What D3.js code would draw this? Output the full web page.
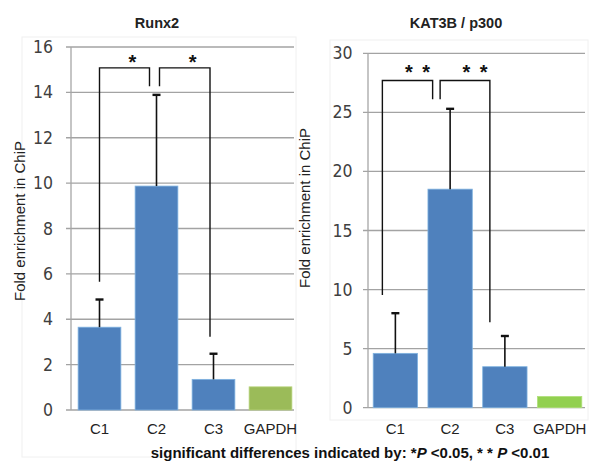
<!DOCTYPE html>
<html>
<head>
<meta charset="utf-8">
<script src="https://cdn.jsdelivr.net/npm/d3@7"></script>
<style>
  body { margin: 0; background: #fff; }
  svg { display: block; }
</style>
</head>
<body>
<div id="chart"></div>
<script>
// data
const categories = ["C1", "C2", "C3", "GAPDH"];
const runx2Values = [3.65, 9.87, 1.35, 1.02];
const runx2Errors = [1.22, 4.02, 1.13, 0];
const runx2Ticks = [0, 2, 4, 6, 8, 10, 12, 14, 16];
const p300Values = [4.6, 18.5, 3.47, 0.95];
const p300Errors = [3.4, 6.8, 2.6, 0];
const p300Ticks = [0, 5, 10, 15, 20, 25, 30];
// brackets: [from index, to index, top, leftLegBottom, rightLegBottom, label]
const runx2Brackets = [[0, 1, 15.08, 5.65, 14.27, "*"], [1, 2, 15.08, 14.27, 3.23, "*"]];
const p300Brackets = [[0, 1, 27.7, 9.55, 26.1, "* *"], [1, 2, 27.7, 26.1, 7.23, "* *"]];

const W = 591, H = 466;
const svg = d3.select("#chart").append("svg").attr("width", W).attr("height", H);

const blue = "#4f81bd";
const tickFont = "'Liberation Sans Narrow', 'DejaVu Sans Condensed', 'Arial Narrow', sans-serif";
const textFont = "'Liberation Sans', Arial, sans-serif";

function panel(o) {
  const g = svg.append("g");
  const x = d3.scaleBand().domain(categories).range([o.x0, o.x1]).paddingInner(o.pad).paddingOuter(o.pad / 2);
  const y = d3.scaleLinear().domain([0, o.max]).range([o.y0, o.y1]);
  const cx = i => x(categories[i]) + x.bandwidth() / 2;

  // light chart-area frame
  g.append("rect")
    .attr("x", o.frame[0]).attr("y", o.frame[1])
    .attr("width", o.frame[2]).attr("height", o.frame[3])
    .attr("fill", "none").attr("stroke", "#f0f0f0");

  // gridlines + ticks
  g.selectAll(".grid").data(o.ticks).join("line")
    .attr("x1", o.x0 - 5).attr("x2", o.gx1)
    .attr("y1", d => y(d)).attr("y2", d => y(d))
    .attr("stroke", "#a3a3a3").attr("stroke-width", 1.3);

  g.append("line")
    .attr("x1", o.x0).attr("x2", o.x0)
    .attr("y1", y(o.max)).attr("y2", y(0))
    .attr("stroke", "#a6a6a6").attr("stroke-width", 1.3);

  g.selectAll(".tl").data(o.ticks).join("text")
    .attr("x", o.x0 - o.tickGap).attr("y", d => y(d) + 6)
    .attr("text-anchor", "end")
    .attr("font-family", tickFont).attr("font-size", 17.5)
    .attr("fill", "#404040")
    .text(d => d);

  // bars
  g.selectAll(".bar").data(o.values).join("rect")
    .attr("x", (d, i) => x(categories[i]))
    .attr("width", x.bandwidth())
    .attr("y", d => y(d))
    .attr("height", d => y(0) - y(d))
    .attr("fill", (d, i) => i === 3 ? o.green : blue)
    .attr("stroke", (d, i) => i === 3 ? o.greenEdge : "#7fb2e0")
    .attr("stroke-width", 0.8);

  // error bars
  o.values.forEach((v, i) => {
    if (!o.errors[i]) return;
    const ex = cx(i);
    g.append("line").attr("x1", ex).attr("x2", ex)
      .attr("y1", y(v)).attr("y2", y(v + o.errors[i]))
      .attr("stroke", "#111").attr("stroke-width", 1.6);
    g.append("line").attr("x1", ex - 4).attr("x2", ex + 4)
      .attr("y1", y(v + o.errors[i])).attr("y2", y(v + o.errors[i]))
      .attr("stroke", "#111").attr("stroke-width", 2.4);
  });

  // significance brackets
  o.brackets.forEach(([a, b, top, l, r, lab], k) => {
    const xa = cx(a) + o.legDx[k][0];
    const xb = cx(b) + o.legDx[k][1];
    g.append("path")
      .attr("d", `M${xa},${y(l)}V${y(top)}H${xb}V${y(r)}`)
      .attr("fill", "none").attr("stroke", "#111").attr("stroke-width", 1.4);
    g.append("text")
      .attr("x", (xa + xb) / 2 + o.starDx).attr("y", y(top) + o.starDy)
      .attr("text-anchor", "middle")
      .attr("font-family", textFont).attr("font-weight", "bold")
      .attr("font-size", 20).attr("fill", "#111")
      .attr("letter-spacing", lab.length > 1 ? 2 : 0)
      .attr("xml:space", "preserve")
      .text(lab);
  });

  // x labels
  g.selectAll(".xl").data(categories).join("text")
    .attr("x", d => x(d) + x.bandwidth() / 2)
    .attr("y", 434)
    .attr("text-anchor", "middle")
    .attr("font-family", textFont).attr("font-size", 15)
    .attr("fill", "#222")
    .text(d => d);

  // y label
  g.append("text")
    .attr("transform", `translate(${o.ylx},${o.yly}) rotate(-90)`)
    .attr("text-anchor", "middle")
    .attr("font-family", textFont).attr("font-size", 15)
    .attr("fill", "#222")
    .text("Fold enrichment in ChiP");

  // title
  g.append("text")
    .attr("x", o.tx).attr("y", 28)
    .attr("text-anchor", "middle")
    .attr("font-family", textFont).attr("font-weight", "bold")
    .attr("font-size", 14.5).attr("fill", "#222")
    .text(o.title);
}

panel({
  title: "Runx2", tx: 157,
  x0: 71, x1: 299, gx1: 294, pad: 0.25, y0: 410, y1: 47, max: 16, tickGap: 18,
  ticks: runx2Ticks, values: runx2Values, errors: runx2Errors, brackets: runx2Brackets,
  green: "#9bbb59", greenEdge: "#b6d37a",
  ylx: 25, yly: 221, legDx: [[0, -7], [3, -3.5]], starDx: 8, starDy: 1,
  frame: [22, 37, 274, 420]
});

panel({
  title: "KAT3B / p300", tx: 456,
  x0: 368, x1: 587, gx1: 585, pad: 0.19, y0: 407.7, y1: 53.3, max: 30, tickGap: 15.5,
  ticks: p300Ticks, values: p300Values, errors: p300Errors, brackets: p300Brackets,
  green: "#92d050", greenEdge: "#b0e07a",
  ylx: 310, yly: 208, legDx: [[-13, -17.5], [-10, -15]], starDx: 11, starDy: -1.5,
  frame: [330, 40, 258, 380]
});

// footer
const foot = svg.append("text")
  .attr("x", 350).attr("y", 458)
  .attr("text-anchor", "middle")
  .attr("font-family", textFont).attr("font-weight", "bold")
  .attr("font-size", 15).attr("fill", "#111")
  .attr("xml:space", "preserve");
foot.append("tspan").text("significant differences indicated by: *");
foot.append("tspan").attr("font-style", "italic").text("P");
foot.append("tspan").text(" <0.05, * * ");
foot.append("tspan").attr("font-style", "italic").text("P");
foot.append("tspan").text(" <0.01");
</script>
</body>
</html>
